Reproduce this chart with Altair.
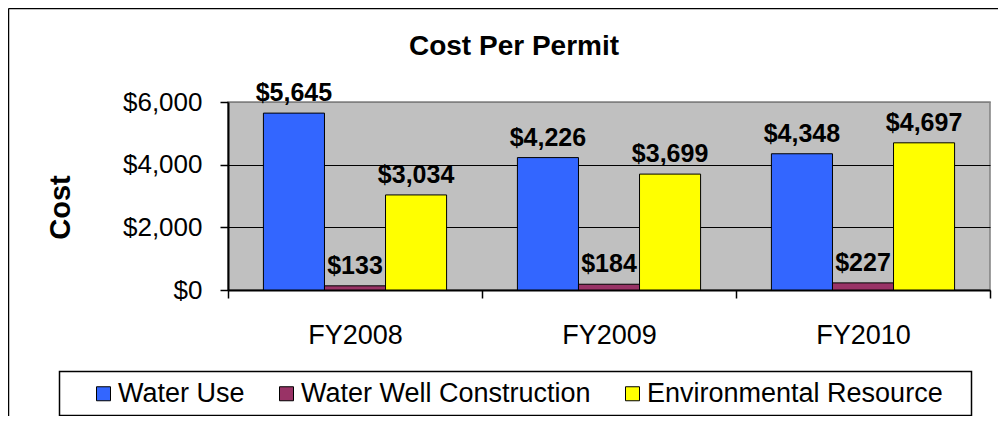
import altair as alt
import pandas as pd

categories = ["FY2008", "FY2009", "FY2010"]
series = ["Water Use", "Water Well Construction", "Environmental Resource"]
water_use = [5645, 4226, 4348]
water_well = [133, 184, 227]
environmental = [3034, 3699, 4697]
colors = ["#3366FF", "#993366", "#FFFF00"]
y_ticks = [0, 2000, 4000, 6000]

rows = []
for s, vals in zip(series, [water_use, water_well, environmental]):
    for c, v in zip(categories, vals):
        rows.append({"year": c, "series": s, "value": v})
df = pd.DataFrame(rows)

FONT = "Liberation Sans, Arial, sans-serif"

x_enc = alt.X("year:N", sort=categories, title=None,
              scale=alt.Scale(paddingInner=0, paddingOuter=0),
              axis=alt.Axis(labelFontSize=27, labelFont=FONT, labelColor="black",
                            labelPadding=24, tickBand="extent", tickSize=8,
                            tickColor="black", tickWidth=1.5, domainColor="black",
                            domainWidth=2, labelAngle=0))
xo_enc = alt.XOffset("series:N", sort=series,
                     scale=alt.Scale(paddingOuter=0.58, paddingInner=0))
y_enc = alt.Y("value:Q", scale=alt.Scale(domain=[0, 6000], nice=False),
              axis=alt.Axis(values=y_ticks, format="$,.0f", title="Cost",
                            labelFontSize=26, labelFont=FONT, labelColor="black",
                            labelPadding=18, tickSize=8, tickColor="black",
                            tickWidth=1.5, domainColor="black", domainWidth=2,
                            grid=True,
                            gridColor={"condition": {"test": "datum.value >= 6000", "value": "#808080"}, "value": "black"},
                            gridWidth=1.2,
                            titleFont=FONT, titleFontSize=29, titleFontWeight="bold",
                            titleColor="black", titleAngle=270, titleAlign="center",
                            titleBaseline="alphabetic", titleX=-159, titleY=105))
color_enc = alt.Color("series:N", sort=series,
                      scale=alt.Scale(domain=series, range=colors),
                      legend=alt.Legend(title=None, orient="none", legendX=-138, legendY=278,
                                        direction="horizontal", symbolType="square",
                                        symbolSize=196, symbolStrokeColor="black",
                                        symbolStrokeWidth=1, labelFontSize=27,
                                        labelFont=FONT, labelColor="black",
                                        labelOffset=1, columnPadding=28, labelLimit=600))

base = alt.Chart(df)

bars = base.mark_bar(stroke="black", strokeWidth=1).encode(
    x=x_enc, xOffset=xo_enc, y=y_enc, color=color_enc)

labels = base.mark_text(dy=-12, baseline="alphabetic", fontSize=25, fontWeight="bold",
                        font=FONT, color="black").encode(
    x=alt.X("year:N", sort=categories),
    xOffset=alt.XOffset("series:N", sort=series),
    y="value:Q",
    text=alt.Text("value:Q", format="$,.0f"))

deco = pd.DataFrame({"k": [0]})
frame_top = alt.Chart(deco).mark_rule(stroke="black", strokeWidth=1.5).encode(
    x=alt.value(-219.5), x2=alt.value(770), y=alt.value(-93.5))
frame_left = alt.Chart(deco).mark_rule(stroke="black", strokeWidth=1.5).encode(
    x=alt.value(-219.5), y=alt.value(-93.5), y2=alt.value(314))
legend_box = alt.Chart(deco).mark_rect(filled=False, stroke="black", strokeWidth=1.5).encode(
    x=alt.value(-168.5), x2=alt.value(743.5), y=alt.value(269.5), y2=alt.value(313.5))

chart = alt.layer(frame_top, frame_left, legend_box, bars, labels).properties(
    width=762, height=188,
    padding={"left": 220, "top": 94, "right": 8, "bottom": 126},
    autosize=alt.AutoSizeParams(type="none"),
    title=alt.TitleParams("Cost Per Permit", font=FONT, fontSize=28, fontWeight="bold",
                          color="black", frame="group", anchor="middle", dx=-95,
                          baseline="alphabetic", offset=-75),
    background="white",
).configure_view(fill="#C0C0C0", stroke="#808080", strokeWidth=1.5)

chart.save("out.html", embed_options={"renderer": "svg", "actions": False})
